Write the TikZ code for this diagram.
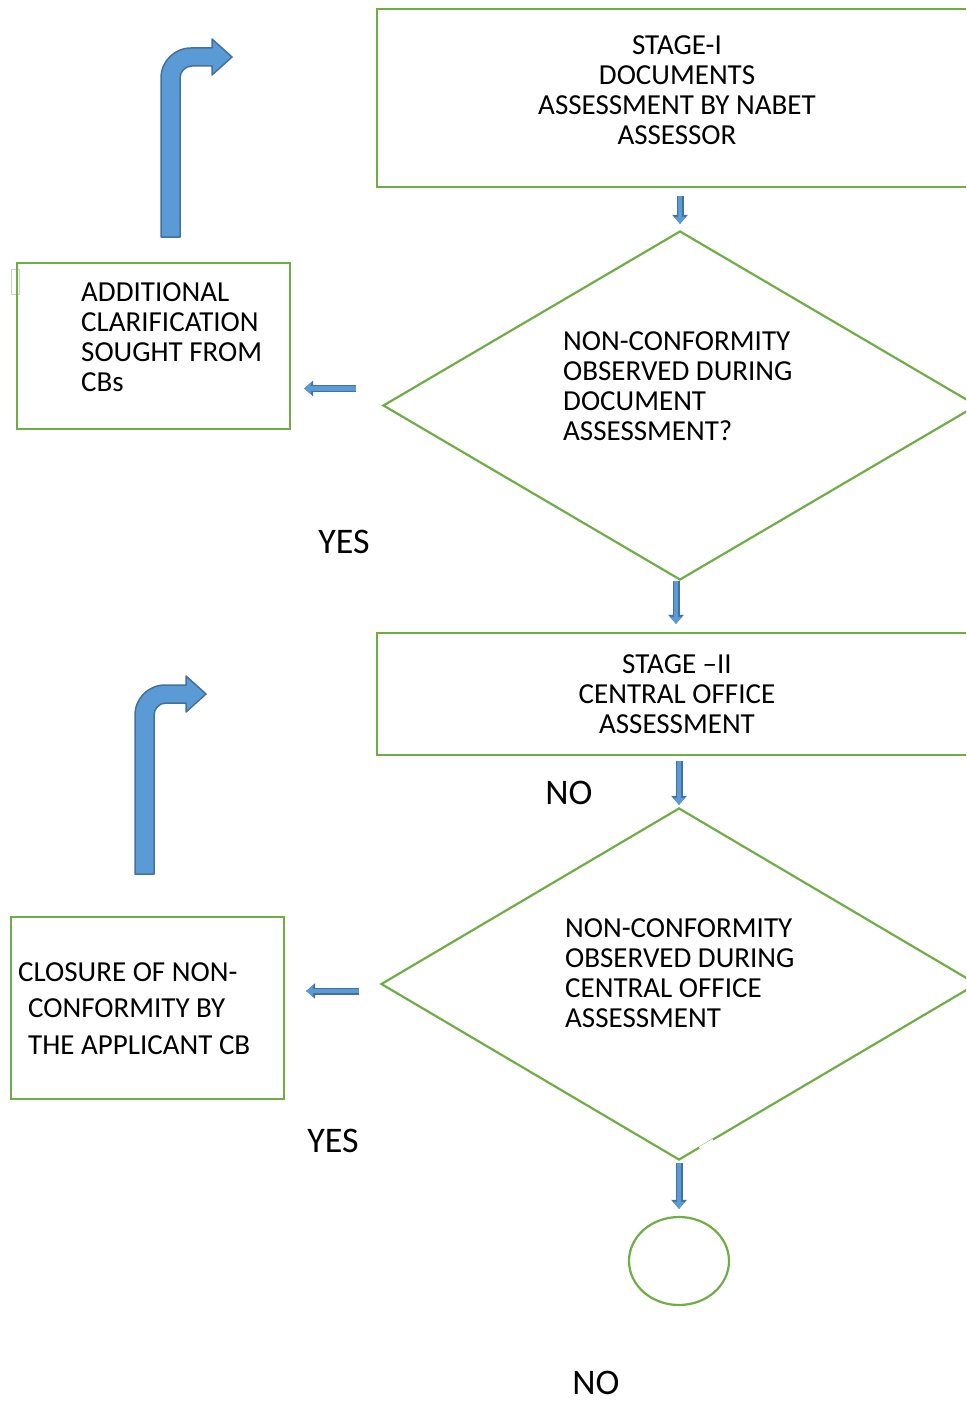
\documentclass[tikz,border=0pt]{standalone}
\usepackage{fontspec}
\setmainfont{Carlito}
\usepackage{tikz}
\usetikzlibrary{shapes,positioning,arrows.meta,calc}

\definecolor{boxgreen}{RGB}{112,173,71}
\definecolor{arrowblue}{RGB}{91,155,213}
\definecolor{arrowedge}{RGB}{65,113,156}

\tikzset{
  boxline/.style={draw=boxgreen, line width=2.2pt},
  stagebox/.style={boxline, rectangle, minimum width=600pt, inner sep=0pt, align=center, font=\fontsize{29}{30}\selectfont},
  sidebox/.style={boxline, rectangle, minimum width=273pt, inner sep=0pt},
  decision/.style={boxline, diamond, inner sep=0pt},
  boxtext/.style={inner sep=0pt, font=\fontsize{29}{30}\selectfont},
  answer/.style={inner sep=0pt, font=\fontsize{36}{40}\selectfont},
  blockarr/.style={draw=arrowblue, line width=4.5pt, -{Triangle[length=7pt,width=11pt]},
    preaction={draw=arrowedge, line width=7pt, -{Triangle[length=9pt,width=15pt]}}},
  bentarrow/.style={fill=arrowblue, draw=arrowedge, line width=1.5pt, line join=round}
}

\begin{document}
\begin{tikzpicture}[x=1pt,y=-1pt]
\useasboundingbox (0,0) rectangle (966,1402);
\clip (0,0) rectangle (966,1402);

% stage I
\node[stagebox, minimum height=178pt] (box1) at (677,98) {};
\node[boxtext, align=center] (box1text) at (677,90) {STAGE-I\\DOCUMENTS\\ASSESSMENT BY NABET\\ASSESSOR};

\node[decision, minimum width=594pt, minimum height=349pt] (d1) at (680,405.5) {};
\node[boxtext, align=left, anchor=west] (d1text) at (563,386) {NON-CONFORMITY\\OBSERVED DURING\\DOCUMENT\\ASSESSMENT?};

\draw[draw=black!20!boxgreen!35, line width=1pt] (11,269) rectangle (19,294);
\node[sidebox, minimum height=166pt] (clar) at (153.5,346) {};
\node[boxtext, align=left, anchor=west] (clartext) at (81,337) {ADDITIONAL\\CLARIFICATION\\SOUGHT FROM\\CBs};

% stage II
\node[stagebox, minimum height=122pt] (box2) at (677,694) {STAGE –II\\CENTRAL OFFICE\\ASSESSMENT};

\node[decision, minimum width=596pt, minimum height=352pt] (d2) at (679,984) {};
\node[boxtext, align=left, anchor=west] (d2text) at (565,973) {NON-CONFORMITY\\OBSERVED DURING\\CENTRAL OFFICE\\ASSESSMENT};
\draw[white, line width=4pt] ($(d2.south)!0.07!(d2.east)$) -- ($(d2.south)!0.115!(d2.east)$);

\node[sidebox, minimum height=182pt] (closure) at (147.5,1008) {};
\node[inner sep=0pt, align=left, anchor=west, font=\fontsize{29}{36.5}\selectfont] (closuretext) at (18,1008.5)
  {CLOSURE OF NON-\\\hspace*{10pt}CONFORMITY BY\\\hspace*{10pt}THE APPLICANT CB};

\node[boxline, ellipse, minimum width=100pt, minimum height=88pt, inner sep=0pt] (endc) at (679,1261) {};

% answers
\node[answer] (yes1) at (344,542) {YES};
\node[answer] (no1) at (569,793) {NO};
\node[answer] (yes2) at (333,1141) {YES};
\node[answer] (no2) at (596,1383) {NO};

% small arrows
\draw[blockarr, shorten <=8pt, shorten >=6pt] (box1.south -| d1.north) -- (d1.north);
\path (d1.west) ++(-26,-17) coordinate (c1);
\draw[blockarr, shorten >=13pt] (c1) -- (c1 -| clar.east);
\path (d1.south) ++(-4,0) coordinate (c3);
\draw[blockarr, shorten >=8pt] (c3) -- (c3 |- box2.north);
\draw[blockarr, shorten <=5pt, shorten >=2pt] (box2.south -| d2.north) -- (d2.north);
\path (d2.west) ++(-21,7) coordinate (c2);
\draw[blockarr, shorten >=21pt] (c2) -- (c2 -| closure.east);
\draw[blockarr, shorten <=2pt, shorten >=7pt] (d2.south) -- (endc.north);

% bent arrows
\path[bentarrow] (161,237) -- (161,78) arc[start angle=180, end angle=270, radius=30] -- (212,48) -- (212,39) -- (232,57) -- (212,75) -- (212,66) -- (192,66) arc[start angle=270, end angle=180, radius=12] -- (180,237) -- cycle;
\begin{scope}[shift={(-26,637)}]
\path[bentarrow] (161,237) -- (161,78) arc[start angle=180, end angle=270, radius=30] -- (212,48) -- (212,39) -- (232,57) -- (212,75) -- (212,66) -- (192,66) arc[start angle=270, end angle=180, radius=12] -- (180,237) -- cycle;
\end{scope}
\end{tikzpicture}
\end{document}
